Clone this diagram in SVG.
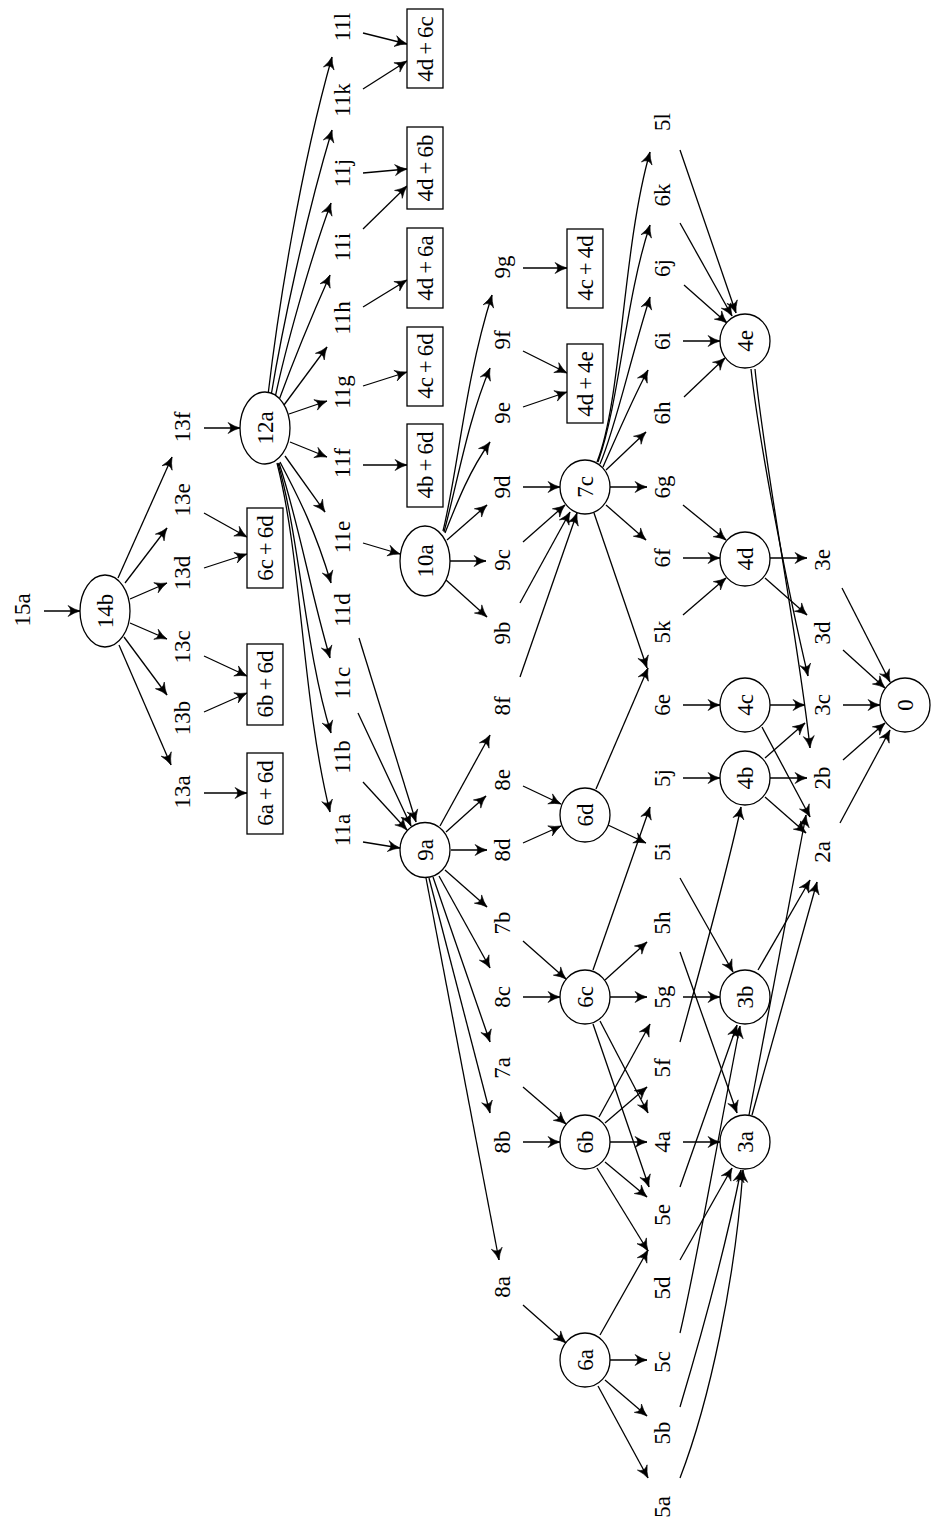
<svg xmlns="http://www.w3.org/2000/svg" width="936" height="1529" viewBox="0 0 936 1529">
<style>
text{font-family:"Liberation Serif","Times New Roman",serif;font-size:23px;text-anchor:middle;dominant-baseline:central;fill:#000}
ellipse,rect{fill:#fff;stroke:#000;stroke-width:1.3}
#edges path{fill:none;stroke:#000;stroke-width:1.3;marker-end:url(#ah)}
</style>
<defs>
<marker id="ah" viewBox="-14 -7 16 14" refX="0" refY="0" markerWidth="16" markerHeight="14" markerUnits="userSpaceOnUse" orient="auto">
<path d="M0,0 Q-6,-1.6 -12,-5.5 Q-6.5,0 -12,5.5 Q-6,1.6 0,0 Z" fill="#000" stroke="#000" stroke-width="0.6"/>
</marker>
</defs>
<rect x="0" y="0" width="936" height="1529" style="fill:#fff;stroke:none"/>
<g id="edges">
<path d="M44,611 L80,611"/>
<path d="M118,578 L172,457"/>
<path d="M125,583 L167,528"/>
<path d="M130,599 L167,583"/>
<path d="M130,623 L167,639"/>
<path d="M124,637 L167,695"/>
<path d="M119,645 L171,765"/>
<path d="M204,793 L247,793"/>
<path d="M204,712 L247,693"/>
<path d="M204,656 L247,676"/>
<path d="M204,568 L247,554"/>
<path d="M204,513 L247,537"/>
<path d="M204,428 L240,428"/>
<path d="M290,442 L327,457"/>
<path d="M285,456 L325,512"/>
<path d="M280,462 C300,500 315,530 331,583"/>
<path d="M279,463 C298,520 310,590 330,658"/>
<path d="M278,463 C300,540 305,650 331,733"/>
<path d="M277,463 C302,560 302,700 330,812"/>
<path d="M289,414 L327,401"/>
<path d="M284,405 L327,347"/>
<path d="M279,400 C290,370 310,320 330,275"/>
<path d="M275,398 C285,350 310,260 331,203"/>
<path d="M271,396 C282,330 305,220 332,130"/>
<path d="M268,395 C278,310 300,170 332,57"/>
<path d="M363,842 L400,848"/>
<path d="M363,782 L407,830"/>
<path d="M358,713 L411,826"/>
<path d="M359,638 L416,822"/>
<path d="M363,543 L400,554"/>
<path d="M363,465 L407,465"/>
<path d="M363,386 L407,372"/>
<path d="M363,307 L407,280"/>
<path d="M363,229 L407,186"/>
<path d="M363,173 L407,169"/>
<path d="M363,89 L407,61"/>
<path d="M363,33 L407,44"/>
<path d="M443,531 C458,470 465,380 492,295"/>
<path d="M444,532 C458,480 468,420 490,368"/>
<path d="M445,533 C458,500 470,470 490,442"/>
<path d="M447,540 L487,505"/>
<path d="M450,561 L486,561"/>
<path d="M446,580 L487,617"/>
<path d="M440,826 L490,735"/>
<path d="M446,832 L486,796"/>
<path d="M451,850 L487,850"/>
<path d="M445,870 L487,907"/>
<path d="M439,876 L490,968"/>
<path d="M433,877 L490,1042"/>
<path d="M429,878 L490,1113"/>
<path d="M426,878 L499,1260"/>
<path d="M520,603 L570,512"/>
<path d="M523,542 L565,505"/>
<path d="M523,487 L560,487"/>
<path d="M520,677 L577,513"/>
<path d="M523,407 L567,392"/>
<path d="M523,351 L567,373"/>
<path d="M523,268 L567,268"/>
<path d="M523,786 L561,804"/>
<path d="M523,843 L561,826"/>
<path d="M523,941 L566,979"/>
<path d="M523,997 L560,997"/>
<path d="M523,1087 L566,1124"/>
<path d="M523,1142 L560,1142"/>
<path d="M523,1305 L566,1343"/>
<path d="M597,462 C622,400 622,250 650,152"/>
<path d="M598,462 C620,400 625,300 650,225"/>
<path d="M600,464 C615,430 630,360 650,297"/>
<path d="M603,467 C615,440 632,400 648,370"/>
<path d="M606,470 L646,432"/>
<path d="M610,487 L647,487"/>
<path d="M606,505 L646,540"/>
<path d="M594,513 L647,668"/>
<path d="M596,789 L648,668"/>
<path d="M608,825 L646,843"/>
<path d="M593,970 L650,807"/>
<path d="M605,980 L647,942"/>
<path d="M610,997 L647,997"/>
<path d="M600,1021 L648,1113"/>
<path d="M593,1024 L649,1187"/>
<path d="M599,1117 L650,1024"/>
<path d="M605,1123 L647,1087"/>
<path d="M610,1142 L647,1142"/>
<path d="M605,1162 L647,1197"/>
<path d="M597,1168 L648,1251"/>
<path d="M600,1335 L648,1250"/>
<path d="M610,1360 L647,1360"/>
<path d="M605,1380 L647,1416"/>
<path d="M598,1386 L648,1478"/>
<path d="M680,150 L736,313"/>
<path d="M680,223 L732,316"/>
<path d="M684,285 L727,323"/>
<path d="M683,341 L720,341"/>
<path d="M684,397 L725,358"/>
<path d="M683,505 L726,540"/>
<path d="M683,558 L720,558"/>
<path d="M683,615 L726,578"/>
<path d="M683,705 L720,705"/>
<path d="M683,778 L720,778"/>
<path d="M680,878 L733,972"/>
<path d="M680,952 L737,1113"/>
<path d="M683,997 L720,997"/>
<path d="M680,1042 C700,970 725,880 741,807"/>
<path d="M683,1142 L720,1142"/>
<path d="M680,1187 L737,1025"/>
<path d="M680,1260 L732,1168"/>
<path d="M680,1333 C695,1270 712,1170 740,1026"/>
<path d="M680,1407 C700,1340 725,1250 741,1170"/>
<path d="M680,1478 C710,1400 735,1280 743,1170"/>
<path d="M770,558 L807,558"/>
<path d="M765,578 L807,615"/>
<path d="M751,369 C760,450 790,600 808,676"/>
<path d="M755,369 C765,470 800,650 810,748"/>
<path d="M770,705 L805,705"/>
<path d="M762,727 L810,817"/>
<path d="M765,758 L805,723"/>
<path d="M770,778 L807,778"/>
<path d="M765,797 L806,833"/>
<path d="M758,970 L810,880"/>
<path d="M752,1115 L817,882"/>
<path d="M749,1115 L806,815"/>
<path d="M842,588 L890,682"/>
<path d="M843,650 L885,688"/>
<path d="M843,705 L880,705"/>
<path d="M843,760 L885,723"/>
<path d="M840,823 L890,730"/>
</g>
<g id="n15a"><text x="22" y="610" transform="rotate(-90 22 610)">15a</text></g>
<g id="n14b"><ellipse cx="105" cy="611" rx="25" ry="36"/><text x="105" y="611" transform="rotate(-90 105 611)">14b</text></g>
<g id="n13f"><text x="182" y="427" transform="rotate(-90 182 427)">13f</text></g>
<g id="n13e"><text x="182" y="500" transform="rotate(-90 182 500)">13e</text></g>
<g id="n13d"><text x="182" y="573" transform="rotate(-90 182 573)">13d</text></g>
<g id="n13c"><text x="182" y="647" transform="rotate(-90 182 647)">13c</text></g>
<g id="n13b"><text x="182" y="718" transform="rotate(-90 182 718)">13b</text></g>
<g id="n13a"><text x="182" y="792" transform="rotate(-90 182 792)">13a</text></g>
<g id="n12a"><ellipse cx="265" cy="428" rx="25" ry="36"/><text x="265" y="428" transform="rotate(-90 265 428)">12a</text></g>
<g id="b6c6d"><rect x="247" y="508" width="36" height="80"/><text x="265" y="548" transform="rotate(-90 265 548)">6c<tspan dx="4">+</tspan><tspan dx="4">6d</tspan></text></g>
<g id="b6b6d"><rect x="247" y="644" width="36" height="81"/><text x="265" y="684" transform="rotate(-90 265 684)">6b<tspan dx="4">+</tspan><tspan dx="4">6d</tspan></text></g>
<g id="b6a6d"><rect x="247" y="753" width="36" height="81"/><text x="265" y="793" transform="rotate(-90 265 793)">6a<tspan dx="4">+</tspan><tspan dx="4">6d</tspan></text></g>
<g id="n11l"><text x="342" y="27" transform="rotate(-90 342 27)">11l</text></g>
<g id="n11k"><text x="342" y="100" transform="rotate(-90 342 100)">11k</text></g>
<g id="n11j"><text x="342" y="173" transform="rotate(-90 342 173)">11j</text></g>
<g id="n11i"><text x="342" y="247" transform="rotate(-90 342 247)">11i</text></g>
<g id="n11h"><text x="342" y="318" transform="rotate(-90 342 318)">11h</text></g>
<g id="n11g"><text x="342" y="392" transform="rotate(-90 342 392)">11g</text></g>
<g id="n11f"><text x="342" y="463" transform="rotate(-90 342 463)">11f</text></g>
<g id="n11e"><text x="342" y="537" transform="rotate(-90 342 537)">11e</text></g>
<g id="n11d"><text x="342" y="610" transform="rotate(-90 342 610)">11d</text></g>
<g id="n11c"><text x="342" y="683" transform="rotate(-90 342 683)">11c</text></g>
<g id="n11b"><text x="342" y="757" transform="rotate(-90 342 757)">11b</text></g>
<g id="n11a"><text x="342" y="830" transform="rotate(-90 342 830)">11a</text></g>
<g id="b4d6c"><rect x="407" y="9" width="36" height="79"/><text x="425" y="49" transform="rotate(-90 425 49)">4d<tspan dx="4">+</tspan><tspan dx="4">6c</tspan></text></g>
<g id="b4d6b"><rect x="407" y="127" width="36" height="82"/><text x="425" y="168" transform="rotate(-90 425 168)">4d<tspan dx="4">+</tspan><tspan dx="4">6b</tspan></text></g>
<g id="b4d6a"><rect x="407" y="228" width="36" height="80"/><text x="425" y="268" transform="rotate(-90 425 268)">4d<tspan dx="4">+</tspan><tspan dx="4">6a</tspan></text></g>
<g id="b4c6d"><rect x="407" y="327" width="36" height="79"/><text x="425" y="366" transform="rotate(-90 425 366)">4c<tspan dx="4">+</tspan><tspan dx="4">6d</tspan></text></g>
<g id="b4b6d"><rect x="407" y="424" width="36" height="83"/><text x="425" y="465" transform="rotate(-90 425 465)">4b<tspan dx="4">+</tspan><tspan dx="4">6d</tspan></text></g>
<g id="n10a"><ellipse cx="425" cy="561" rx="25" ry="35"/><text x="425" y="561" transform="rotate(-90 425 561)">10a</text></g>
<g id="n9a"><ellipse cx="425" cy="850" rx="25" ry="27.5"/><text x="425" y="850" transform="rotate(-90 425 850)">9a</text></g>
<g id="n9g"><text x="502" y="267" transform="rotate(-90 502 267)">9g</text></g>
<g id="n9f"><text x="502" y="340" transform="rotate(-90 502 340)">9f</text></g>
<g id="n9e"><text x="502" y="413" transform="rotate(-90 502 413)">9e</text></g>
<g id="n9d"><text x="502" y="487" transform="rotate(-90 502 487)">9d</text></g>
<g id="n9c"><text x="502" y="560" transform="rotate(-90 502 560)">9c</text></g>
<g id="n9b"><text x="502" y="633" transform="rotate(-90 502 633)">9b</text></g>
<g id="n8f"><text x="502" y="706" transform="rotate(-90 502 706)">8f</text></g>
<g id="n8e"><text x="502" y="780" transform="rotate(-90 502 780)">8e</text></g>
<g id="n8d"><text x="502" y="850" transform="rotate(-90 502 850)">8d</text></g>
<g id="n7b"><text x="502" y="923" transform="rotate(-90 502 923)">7b</text></g>
<g id="n8c"><text x="502" y="997" transform="rotate(-90 502 997)">8c</text></g>
<g id="n7a"><text x="502" y="1068" transform="rotate(-90 502 1068)">7a</text></g>
<g id="n8b"><text x="502" y="1142" transform="rotate(-90 502 1142)">8b</text></g>
<g id="n8a"><text x="502" y="1287" transform="rotate(-90 502 1287)">8a</text></g>
<g id="b4c4d"><rect x="567" y="229" width="36" height="79"/><text x="585" y="268" transform="rotate(-90 585 268)">4c<tspan dx="4">+</tspan><tspan dx="4">4d</tspan></text></g>
<g id="b4d4e"><rect x="567" y="344" width="36" height="79"/><text x="585" y="384" transform="rotate(-90 585 384)">4d<tspan dx="4">+</tspan><tspan dx="4">4e</tspan></text></g>
<g id="n7c"><ellipse cx="585" cy="487" rx="25" ry="27"/><text x="585" y="487" transform="rotate(-90 585 487)">7c</text></g>
<g id="n6d"><ellipse cx="585" cy="815" rx="25" ry="27"/><text x="585" y="815" transform="rotate(-90 585 815)">6d</text></g>
<g id="n6c"><ellipse cx="585" cy="997" rx="25" ry="27"/><text x="585" y="997" transform="rotate(-90 585 997)">6c</text></g>
<g id="n6b"><ellipse cx="585" cy="1142" rx="25" ry="27"/><text x="585" y="1142" transform="rotate(-90 585 1142)">6b</text></g>
<g id="n6a"><ellipse cx="585" cy="1360" rx="25" ry="27"/><text x="585" y="1360" transform="rotate(-90 585 1360)">6a</text></g>
<g id="n5l"><text x="662" y="122" transform="rotate(-90 662 122)">5l</text></g>
<g id="n6k"><text x="662" y="195" transform="rotate(-90 662 195)">6k</text></g>
<g id="n6j"><text x="662" y="268" transform="rotate(-90 662 268)">6j</text></g>
<g id="n6i"><text x="662" y="341" transform="rotate(-90 662 341)">6i</text></g>
<g id="n6h"><text x="662" y="413" transform="rotate(-90 662 413)">6h</text></g>
<g id="n6g"><text x="662" y="487" transform="rotate(-90 662 487)">6g</text></g>
<g id="n6f"><text x="662" y="558" transform="rotate(-90 662 558)">6f</text></g>
<g id="n5k"><text x="662" y="632" transform="rotate(-90 662 632)">5k</text></g>
<g id="n6e"><text x="662" y="705" transform="rotate(-90 662 705)">6e</text></g>
<g id="n5j"><text x="662" y="778" transform="rotate(-90 662 778)">5j</text></g>
<g id="n5i"><text x="662" y="852" transform="rotate(-90 662 852)">5i</text></g>
<g id="n5h"><text x="662" y="923" transform="rotate(-90 662 923)">5h</text></g>
<g id="n5g"><text x="662" y="997" transform="rotate(-90 662 997)">5g</text></g>
<g id="n5f"><text x="662" y="1068" transform="rotate(-90 662 1068)">5f</text></g>
<g id="n4a"><text x="662" y="1142" transform="rotate(-90 662 1142)">4a</text></g>
<g id="n5e"><text x="662" y="1215" transform="rotate(-90 662 1215)">5e</text></g>
<g id="n5d"><text x="662" y="1288" transform="rotate(-90 662 1288)">5d</text></g>
<g id="n5c"><text x="662" y="1362" transform="rotate(-90 662 1362)">5c</text></g>
<g id="n5b"><text x="662" y="1433" transform="rotate(-90 662 1433)">5b</text></g>
<g id="n5a"><text x="662" y="1507" transform="rotate(-90 662 1507)">5a</text></g>
<g id="n4e"><ellipse cx="745" cy="341" rx="25" ry="27"/><text x="745" y="341" transform="rotate(-90 745 341)">4e</text></g>
<g id="n4d"><ellipse cx="745" cy="559" rx="25" ry="27"/><text x="745" y="559" transform="rotate(-90 745 559)">4d</text></g>
<g id="n4c"><ellipse cx="745" cy="705" rx="25" ry="27"/><text x="745" y="705" transform="rotate(-90 745 705)">4c</text></g>
<g id="n4b"><ellipse cx="745" cy="778" rx="25" ry="27"/><text x="745" y="778" transform="rotate(-90 745 778)">4b</text></g>
<g id="n3b"><ellipse cx="745" cy="997" rx="25" ry="27"/><text x="745" y="997" transform="rotate(-90 745 997)">3b</text></g>
<g id="n3a"><ellipse cx="745" cy="1142" rx="25" ry="27"/><text x="745" y="1142" transform="rotate(-90 745 1142)">3a</text></g>
<g id="n3e"><text x="822" y="560" transform="rotate(-90 822 560)">3e</text></g>
<g id="n3d"><text x="822" y="633" transform="rotate(-90 822 633)">3d</text></g>
<g id="n3c"><text x="822" y="705" transform="rotate(-90 822 705)">3c</text></g>
<g id="n2b"><text x="822" y="778" transform="rotate(-90 822 778)">2b</text></g>
<g id="n2a"><text x="822" y="852" transform="rotate(-90 822 852)">2a</text></g>
<g id="n0"><ellipse cx="905" cy="705" rx="25" ry="27"/><text x="905" y="705" transform="rotate(-90 905 705)">0</text></g>
</svg>
